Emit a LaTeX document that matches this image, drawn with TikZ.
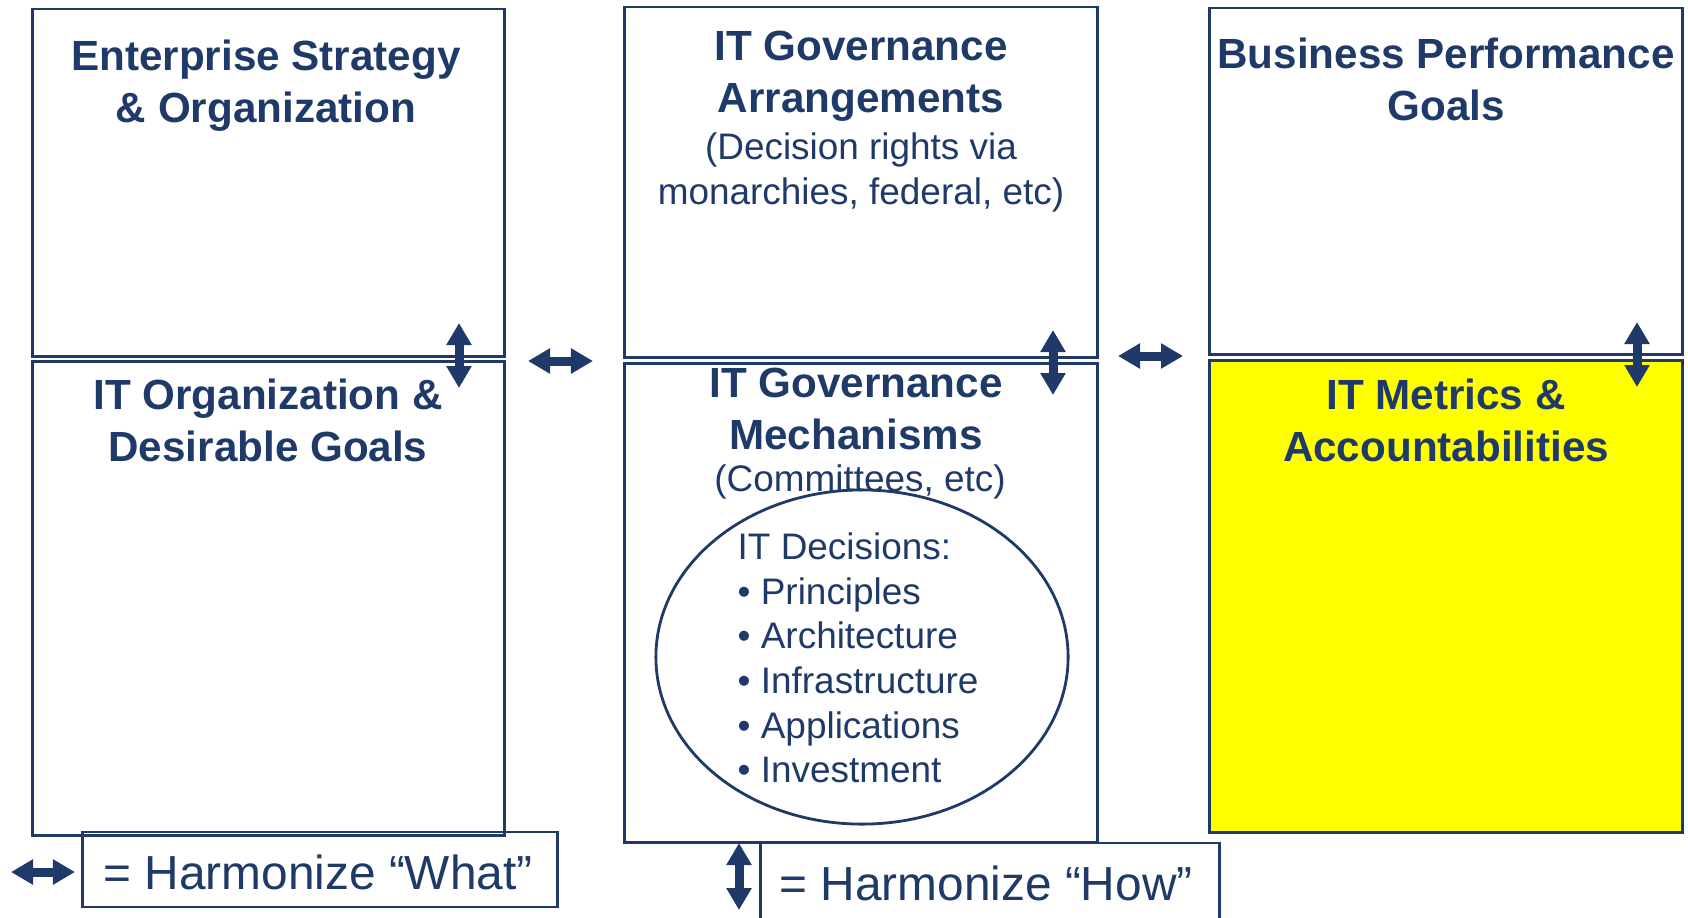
\documentclass[tikz,border=0pt]{standalone}
\usepackage{fontspec}
\setmainfont{Liberation Sans}
\usepackage{xcolor}
\usetikzlibrary{arrows.meta}
\usetikzlibrary{shapes.geometric}
\definecolor{ColNavy}{RGB}{31,58,104}
\definecolor{ColYellow}{RGB}{255,255,0}
\tikzstyle{BoxFrame}=[rectangle,draw=ColNavy,line width=0.8pt,minimum width=4.72cm,inner sep=0pt]
\tikzstyle{TitleText}=[text=ColNavy,font=\fontsize{12}{14.8}\selectfont\bfseries,align=center,inner sep=0pt]
\tikzstyle{NoteText}=[text=ColNavy,font=\fontsize{10.5}{13}\selectfont,align=center,inner sep=0pt]
\tikzstyle{KeyText}=[text=ColNavy,font=\fontsize{13.6}{16}\selectfont,inner sep=0pt]
\tikzstyle{HarmArrow}=[ColNavy,line width=0.09cm,{Triangle[length=0.22cm,width=0.24cm]}-{Triangle[length=0.22cm,width=0.24cm]}]

\begin{document}
\begin{tikzpicture}[x=0.01cm,y=-0.01cm]
        \useasboundingbox(0,0)rectangle(1688,917);
        % the six boxes
        \node[BoxFrame,minimum height=3.47cm](EntStrat)at(268.5,182.5){};
        \node[BoxFrame,minimum height=4.73cm](ITOrg)at(268.5,598.5){};
        \node[BoxFrame,minimum height=3.50cm](GovArr)at(861,182){};
        \node[BoxFrame,minimum height=4.78cm](GovMech)at(861,603){};
        \node[BoxFrame,minimum height=3.46cm](BusPerf)at(1446,181){};
        \node[BoxFrame,fill=ColYellow,minimum height=4.71cm](ITMetric)at(1446,596.5){};
        % titles
        \node[TitleText](EntStratT)at(266,86){Enterprise Strategy\\\& Organization};
        \node[TitleText](GovArrT)at(861,76.5){IT Governance\\Arrangements};
        \node[NoteText](GovArrN)at(861,172.5){(Decision rights via\\monarchies, federal, etc)};
        \node[TitleText](BusPerfT)at(1446,79){Business Performance\\Goals};
        \node[TitleText](ITOrgT)at(268,420.5){IT Organization \&\\Desirable Goals};
        \node[TitleText](GovMechT)at(856,409){IT Governance\\Mechanisms};
        \node[NoteText](GovMechN)at(860,482){(Committees, etc)};
        \node[TitleText](ITMetricT)at(1446,420){IT Metrics \&\\Accountabilities};
        % decisions
        \node[ellipse,draw=ColNavy,line width=0.8pt,minimum width=4.12cm,minimum height=3.34cm](ITDec)at(862,657){};
        \node[NoteText,align=left,anchor=west,font=\fontsize{10.5}{12.7}\selectfont](ITDecL)at(737,658){IT Decisions:\\
            \textbullet\ Principles\\\textbullet\ Architecture\\\textbullet\ Infrastructure\\
            \textbullet\ Applications\\\textbullet\ Investment};
        % key
        \node[BoxFrame,minimum width=4.74cm,minimum height=0.75cm](WhatKey)at(320,869.5){};
        \node[KeyText](WhatKeyT)at(318,872){= Harmonize “What”};
        \node[BoxFrame,minimum width=4.58cm,minimum height=0.92cm](HowKey)at(990,889){};
        \node[KeyText](HowKeyT)at(986,883){= Harmonize “How”};
        % arrows
        \coordinate(VA1)at(459,323);\coordinate(VB1)at(459,388);
        \coordinate(VA2)at(1053,330);\coordinate(VB2)at(1053,395);
        \coordinate(VA3)at(1637,322);\coordinate(VB3)at(1637,387);
        \coordinate(HA1)at(528,361);\coordinate(HB1)at(593,361);
        \coordinate(HA2)at(1118,356);\coordinate(HB2)at(1183,356);
        \coordinate(KA1)at(11,872);\coordinate(KB1)at(75,872);
        \coordinate(KA2)at(739,843);\coordinate(KB2)at(739,910);
        \draw[HarmArrow](VA1)--(VB1);
        \draw[HarmArrow](VA2)--(VB2);
        \draw[HarmArrow](VA3)--(VB3);
        \draw[HarmArrow](HA1)--(HB1);
        \draw[HarmArrow](HA2)--(HB2);
        \draw[HarmArrow](KA1)--(KB1);
        \draw[HarmArrow](KA2)--(KB2);
    \end{tikzpicture}
\end{document}
